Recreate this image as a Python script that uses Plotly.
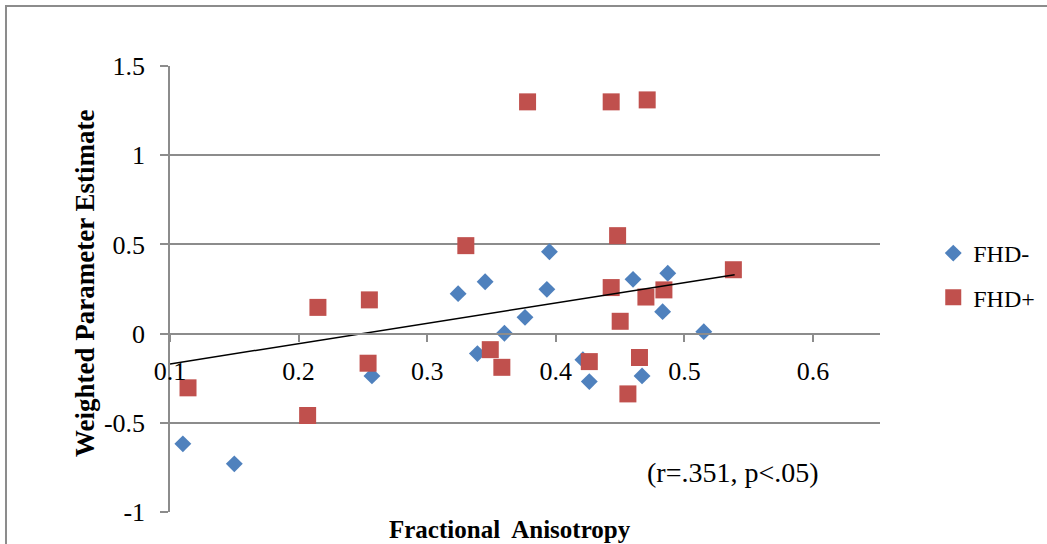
import plotly.graph_objects as go

# FHD- (blue diamonds)
fhd_minus_x = [0.110, 0.150, 0.257, 0.324, 0.345, 0.393, 0.395, 0.376, 0.360, 0.339,
               0.460, 0.487, 0.483, 0.515, 0.421, 0.426, 0.467]
fhd_minus_y = [-0.618, -0.730, -0.237, 0.224, 0.291, 0.248, 0.459, 0.091, 0.002, -0.112,
               0.304, 0.338, 0.123, 0.011, -0.146, -0.269, -0.237]

# FHD+ (red squares)
fhd_plus_x = [0.114, 0.215, 0.207, 0.255, 0.254, 0.378, 0.443, 0.471, 0.330, 0.448,
              0.349, 0.358, 0.443, 0.484, 0.470, 0.450, 0.538, 0.426, 0.465, 0.456]
fhd_plus_y = [-0.304, 0.147, -0.459, 0.189, -0.166, 1.299, 1.299, 1.310, 0.493, 0.549,
              -0.090, -0.189, 0.258, 0.245, 0.205, 0.069, 0.358, -0.157, -0.134, -0.338]

# trend line as drawn in the reference (end points)
trend_x = [0.100, 0.539]
trend_y = [-0.170, 0.330]

y_ticks = [-1, -0.5, 0, 0.5, 1, 1.5]
y_tick_text = ["-1", "-0.5", "0", "0.5", "1", "1.5"]
x_ticks = [0.1, 0.2, 0.3, 0.4, 0.5, 0.6]
x_tick_text = ["0.1", "0.2", "0.3", "0.4", "0.5", "0.6"]
x_range = [0.1, 0.652]
y_range = [-1, 1.5]

FONT = "Liberation Serif"
GRID = "#8c8c8c"

fig = go.Figure()
fig.add_trace(go.Scatter(
    x=fhd_minus_x, y=fhd_minus_y, mode="markers", name="FHD-",
    legendgroup="a",
    marker=dict(symbol="diamond", size=13, color="#4F81BD", line=dict(width=0)),
))
fig.add_trace(go.Scatter(
    x=fhd_plus_x, y=fhd_plus_y, mode="markers", name="FHD+",
    legendgroup="b",
    marker=dict(symbol="square", size=17, color="#C0504D", line=dict(width=0)),
))
fig.add_trace(go.Scatter(
    x=trend_x, y=trend_y, mode="lines", showlegend=False,
    line=dict(color="black", width=1.5),
))

y0_frac = (0 - y_range[0]) / (y_range[1] - y_range[0])

fig.update_layout(
    width=1047, height=544,
    margin=dict(l=170, r=167, t=66, b=32, autoexpand=False),
    paper_bgcolor="white", plot_bgcolor="white",
    font=dict(family=FONT, size=24, color="black"),
    showlegend=True,
    legend=dict(x=1.075, y=0.63, xanchor="left", yanchor="top",
                font=dict(family=FONT, size=24), tracegroupgap=10,
                bgcolor="rgba(0,0,0,0)"),
    xaxis=dict(range=x_range, tickvals=x_ticks, ticktext=x_tick_text,
               showgrid=False, zeroline=False,
               anchor="free", position=y0_frac,
               showline=True, linecolor=GRID, linewidth=1.5,
               ticks="outside", ticklen=8, tickcolor=GRID, tickwidth=1.5,
               ticklabelstandoff=6,
               tickfont=dict(family=FONT, size=26)),
    yaxis=dict(range=y_range, tickvals=y_ticks, ticktext=y_tick_text,
               showgrid=True, gridcolor=GRID, gridwidth=1.5, zeroline=False,
               showline=True, linecolor=GRID, linewidth=1.5,
               ticks="outside", ticklen=8, tickcolor=GRID, tickwidth=1.5,
               ticklabelstandoff=10,
               tickfont=dict(family=FONT, size=26)),
)

fig.add_annotation(text="<b>Weighted Parameter Estimate</b>", xref="paper", yref="paper",
                   x=-0.12, y=0.513, textangle=-90, showarrow=False,
                   xanchor="center", yanchor="middle",
                   font=dict(family=FONT, size=27))
fig.add_annotation(text="<b>Fractional  Anisotropy</b>", xref="paper", yref="paper",
                   x=0.479, y=-0.04, showarrow=False, xanchor="center", yanchor="middle",
                   font=dict(family=FONT, size=25))
fig.add_annotation(text="(r=.351, p<.05)", xref="x", yref="y",
                   x=0.5375, y=-0.778, showarrow=False, xanchor="center", yanchor="middle",
                   font=dict(family=FONT, size=28))

# outer chart border
fig.add_shape(type="rect", xref="paper", yref="paper",
              x0=-0.231, x1=1.25, y0=-0.1, y1=1.1345,
              line=dict(color=GRID, width=2), fillcolor="rgba(0,0,0,0)", layer="below")

fig.write_html("out.html")
